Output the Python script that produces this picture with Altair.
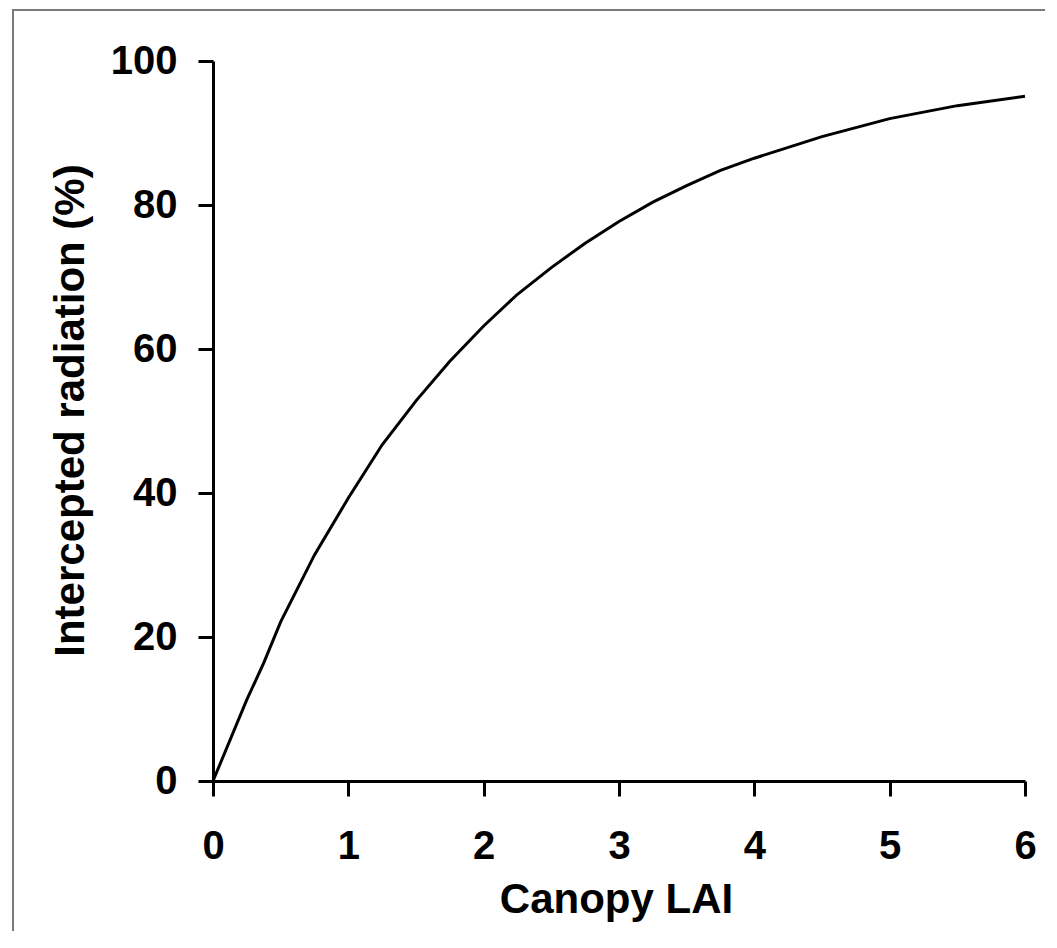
import altair as alt
import pandas as pd

lai = [0, 0.25, 0.375, 0.5, 0.75, 1.0, 1.25, 1.5, 1.75, 2.0, 2.25, 2.5, 2.75,
       3.0, 3.25, 3.5, 3.75, 4.0, 4.5, 5.0, 5.5, 6.0]
intercepted = [0, 11.3, 16.4, 22.1, 31.4, 39.3, 46.7, 52.8, 58.3, 63.2, 67.6, 71.3,
               74.7, 77.7, 80.4, 82.7, 84.8, 86.5, 89.5, 92.0, 93.8, 95.1]

df = pd.DataFrame({"lai": lai, "ir": intercepted})

FONT = "Liberation Sans"

line = alt.Chart(df).mark_line(color="black", strokeWidth=3).encode(
    x=alt.X("lai:Q",
            scale=alt.Scale(domain=[0, 6], nice=False, zero=False),
            axis=alt.Axis(title="Canopy LAI", values=[0, 1, 2, 3, 4, 5, 6],
                          format="d", titleX=403, titleY=98,
                          titleAlign="center", titleBaseline="top",
                          titleFontSize=42,
                          labelFlush=False, labelPadding=30)),
    y=alt.Y("ir:Q",
            scale=alt.Scale(domain=[0, 100], nice=False),
            axis=alt.Axis(title="Intercepted radiation (%)",
                          values=[0, 20, 40, 60, 80, 100], format="d",
                          titleX=-130, titleY=349, titleAngle=270,
                          titleAlign="center", titleBaseline="alphabetic",
                          titleFontSize=42,
                          labelFlush=False, labelPadding=21)),
)

border = alt.Chart(pd.DataFrame({"a": [0]})).mark_rect(
    fill=None, stroke="#7a7a7a", strokeWidth=2
).encode(
    x=alt.value(-200), x2=alt.value(1000),
    y=alt.value(-51), y2=alt.value(1000),
)

chart = alt.layer(border, line).properties(
    width=812, height=720,
    autosize=alt.AutoSizeParams(type="none"),
    padding={"left": 205, "top": 53, "right": 20, "bottom": 150},
    background="white",
).configure_view(stroke=None).configure_axis(
    grid=False,
    domainColor="black", domainWidth=3,
    tickColor="black", tickWidth=3, tickSize=15,
    labelFont=FONT, labelFontSize=40, labelFontWeight="bold", labelColor="black",
    titleFont=FONT, titleFontWeight="bold", titleColor="black",
)

chart.save("out.html", embed_options={"renderer": "svg", "actions": False})
